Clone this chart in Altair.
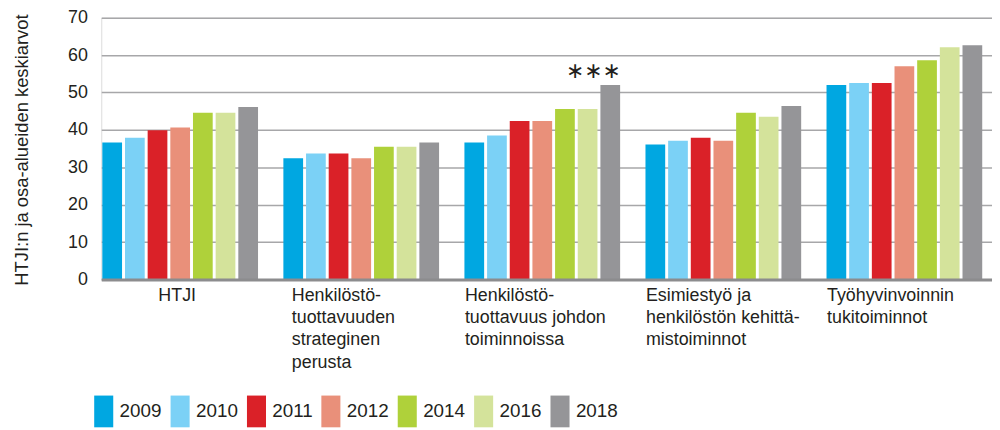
import altair as alt
import pandas as pd

categories = [
    "HTJI",
    "Henkilöstö-|tuottavuuden|strateginen|perusta",
    "Henkilöstö-|tuottavuus johdon|toiminnoissa",
    "Esimiestyö ja|henkilöstön kehittä-|mistoiminnot",
    "Työhyvinvoinnin|tukitoiminnot",
]
years = ["2009", "2010", "2011", "2012", "2014", "2016", "2018"]
colors = ["#00a7e1", "#7bd1f6", "#da2128", "#e9907a", "#afd13a", "#d4e39b", "#959598"]

v_htji = [36.6, 37.9, 39.9, 40.6, 44.6, 44.6, 46.1]
v_strat = [32.4, 33.7, 33.7, 32.4, 35.5, 35.5, 36.6]
v_johto = [36.6, 38.5, 42.4, 42.4, 45.6, 45.6, 52.0]
v_esimies = [36.1, 37.1, 37.9, 37.1, 44.6, 43.5, 46.4]
v_tyohyv = [52.0, 52.5, 52.5, 57.0, 58.6, 62.1, 62.6]
series = [v_htji, v_strat, v_johto, v_esimies, v_tyohyv]
y_ticks = [0, 10, 20, 30, 40, 50, 60, 70]

star_cat = categories[2]
star_year = "2018"
star_value = 52.0
star_text = "∗∗∗"

rows = []
for c, vals in zip(categories, series):
    for y, v in zip(years, vals):
        rows.append({"cat": c, "year": y, "value": v})
df = pd.DataFrame(rows)
stars = pd.DataFrame([{"cat": star_cat, "year": star_year, "value": star_value, "t": star_text}])

TXT = "#231f20"
FONT = "Liberation Sans"

x_enc = alt.X(
    "cat:N",
    sort=categories,
    scale=alt.Scale(paddingInner=0.14, paddingOuter=0.03, align=0.1),
    axis=alt.Axis(
        title=None,
        labelAngle=0,
        labelAlign="left",
        labelBaseline="top",
        labelPadding=7,
        labelFontSize=18,
        labelLineHeight=22.5,
        labelColor=TXT,
        labelFont=FONT,
        labelLimit=300,
        labelOverlap=False,
        labelExpr="split(datum.label, '|')",
        labelOffset={
            "condition": [
                {"test": "datum.value == 'HTJI'", "value": -22},
                {"test": "indexof(datum.value, 'strateginen') >= 0", "value": -70},
            ],
            "value": -78,
        },
        ticks=False,
        tickSize=0,
        domain=True,
        domainColor="#8c8c8e",
        domainWidth=3,
        grid=False,
        zindex=1,
    ),
)
xo_enc = alt.XOffset("year:N", sort=years, scale=alt.Scale(paddingInner=0.13, paddingOuter=0))
y_enc = alt.Y(
    "value:Q",
    scale=alt.Scale(domain=[0, 70], nice=False),
    axis=alt.Axis(
        values=y_ticks,
        labelOverlap=False,
        title="HTJI:n ja osa-alueiden keskiarvot",
        titleFontSize=18.5,
        titleFontWeight="normal",
        titleColor=TXT,
        titleFont=FONT,
        titleAngle=-90,
        titleX=-80,
        titleY=133,
        titleAlign="center",
        titleBaseline="middle",
        labelFontSize=18,
        labelColor=TXT,
        labelFont=FONT,
        labelPadding=14,
        ticks=False,
        tickSize=0,
        domain=False,
        grid=True,
        gridColor="#a7a7a9",
        gridWidth=1.5,
    ),
)

bars = alt.Chart(df).mark_bar().encode(
    x=x_enc,
    xOffset=xo_enc,
    y=y_enc,
    color=alt.Color(
        "year:N",
        sort=years,
        scale=alt.Scale(domain=years, range=colors),
        title=None,
        legend=alt.Legend(
            orient="none",
            legendX=-13.5,
            legendY=381,
            direction="horizontal",
            symbolType="M-0.6,-1H0.6V1H-0.6Z",
            symbolSize=1024,
            symbolStrokeWidth=0,
            symbolOpacity=1,
            labelFontSize=19,
            labelFont=FONT,
            labelColor=TXT,
            labelOffset=0,
            columnPadding=2,
        ),
    ),
)

star_layer = alt.Chart(stars).mark_text(
    font="DejaVu Sans", fontSize=22, color=TXT, dx=-17, dy=-14, baseline="middle"
).encode(
    x=x_enc,
    xOffset=xo_enc,
    y=y_enc,
    text="t:N",
)

chart = (
    alt.layer(bars, star_layer)
    .properties(
        width=898,
        height=264,
        padding={"left": 94, "top": 8, "right": 0, "bottom": 150},
        autosize=alt.AutoSizeParams(type="none"),
    )
    .configure_view(strokeWidth=0)
    .configure(font=FONT)
)

chart.save("out.html", embed_options={"renderer": "svg", "actions": False})
